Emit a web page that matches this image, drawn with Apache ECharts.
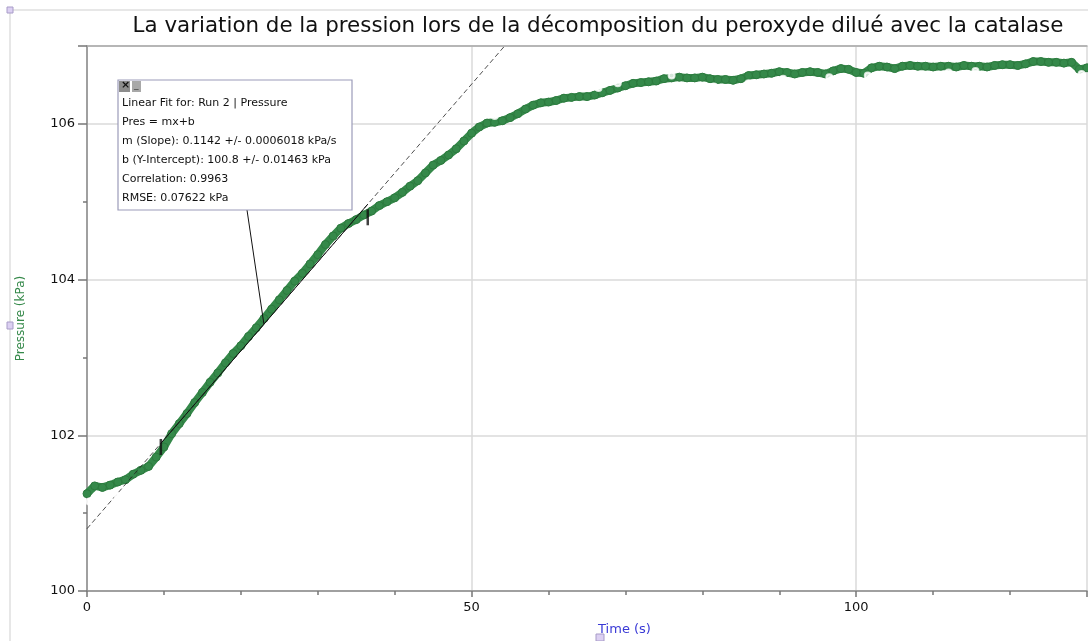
<!DOCTYPE html>
<html>
<head>
<meta charset="utf-8">
<script src="https://cdn.jsdelivr.net/npm/echarts@6/dist/echarts.min.js"></script>
<style>
  html, body { margin: 0; padding: 0; background: #fff; }
  #chart { width: 1088px; height: 641px; }
</style>
</head>
<body>
<div id="chart"></div>
<script>
// Run 2 : pression (kPa) relevée chaque seconde, t = 0 .. 130 s
const sampleStep = 1;
const pressure = [
  101.25, 101.35, 101.33, 101.36, 101.40, 101.43, 101.50, 101.55, 101.60, 101.72,
  101.85, 102.02, 102.15, 102.28, 102.42, 102.55, 102.68, 102.80, 102.93, 103.05,
  103.15, 103.27, 103.38, 103.50, 103.62, 103.74, 103.86, 103.98, 104.08, 104.20,
  104.32, 104.45, 104.56, 104.66, 104.72, 104.77, 104.83, 104.88, 104.95, 105.00,
  105.05, 105.12, 105.20, 105.27, 105.37, 105.47, 105.53, 105.60, 105.68, 105.78,
  105.88, 105.96, 106.01, 106.02, 106.04, 106.08, 106.13, 106.19, 106.24, 106.27,
  106.28, 106.30, 106.33, 106.34, 106.35, 106.35, 106.37, 106.40, 106.43, 106.46,
  106.49, 106.52, 106.53, 106.54, 106.55, 106.58, 106.59, 106.60, 106.59, 106.59,
  106.60, 106.58, 106.57, 106.57, 106.56, 106.58, 106.62, 106.63, 106.64, 106.65,
  106.67, 106.66, 106.64, 106.66, 106.67, 106.66, 106.64, 106.68, 106.71, 106.70,
  106.66, 106.65, 106.72, 106.74, 106.73, 106.71, 106.74, 106.75, 106.74, 106.74,
  106.73, 106.74, 106.74, 106.73, 106.75, 106.74, 106.74, 106.73, 106.75, 106.76,
  106.76, 106.75, 106.77, 106.80, 106.80, 106.79, 106.79, 106.78, 106.79, 106.70,
  106.72
];
// quelques points isolés hors de la bande
const strayTimes = [0.3, 1.2, 1.6, 4.0, 53.0, 63.5, 66.5, 69.0, 76.0, 81.5, 86.0, 90.5, 96.5, 101.5, 104.5, 112.0, 115.5, 129.3];
const strayValues = [101.15, 101.22, 101.17, 101.22, 106.10, 106.24, 106.46, 106.52, 106.62, 106.48, 106.52, 106.58, 106.60, 106.62, 106.60, 106.66, 106.68, 106.64];

// régression linéaire affichée dans la boîte
const fitSlope = 0.1142;
const fitIntercept = 100.8;
const fitRange = [9.6, 36.5];
const fitBracketValues = [101.85, 104.8];
const fitText = [
  'Linear Fit for: Run 2 | Pressure',
  'Pres = mx+b',
  'm (Slope): 0.1142 +/- 0.0006018 kPa/s',
  'b (Y-Intercept): 100.8 +/- 0.01463 kPa',
  'Correlation: 0.9963',
  'RMSE: 0.07622 kPa'
];

const xTicks = { min: 0, max: 130, interval: 50 };
const yTicks = { min: 100, max: 107, interval: 2 };

const green = '#35894a';
const fit = t => fitIntercept + fitSlope * t;

const chart = echarts.init(document.getElementById('chart'));

const runData = pressure.map((p, i) => [i * sampleStep, p]);
const strayData = strayTimes.map((t, i) => [t, strayValues[i]]);

chart.setOption({
  animation: false,
  title: {
    text: 'La variation de la pression lors de la décomposition du peroxyde dilué avec la catalase',
    left: 593,
    textAlign: 'center',
    top: 11,
    textStyle: { fontFamily: 'DejaVu Sans', fontSize: 21.4, fontWeight: 'normal', color: '#111' }
  },
  grid: { left: 87, right: 1, top: 46, bottom: 50 },
  xAxis: [{
    type: 'value',
    min: xTicks.min, max: xTicks.max, interval: xTicks.interval,
    name: 'Time (s)', nameLocation: 'middle', nameGap: 32,
    nameTextStyle: { color: '#3a3ad6', fontFamily: 'DejaVu Sans', fontSize: 13, padding: [0, 0, 0, 75] },
    axisLine: { lineStyle: { color: '#8a8a8a', width: 1.5 } },
    axisTick: { length: 6, lineStyle: { color: '#777', width: 1.5 } },
    minorTick: { show: true, splitNumber: 5, length: 4, lineStyle: { color: '#777', width: 1.5 } },
    axisLabel: {
      color: '#111', fontFamily: 'DejaVu Sans', fontSize: 13, margin: 10,
      showMaxLabel: false
    },
    splitLine: { show: true, lineStyle: { color: '#dadada', width: 1.5 } }
  }, {
    // simple trait du haut du cadre
    type: 'value', position: 'top',
    min: xTicks.min, max: xTicks.max,
    axisLine: { show: true, lineStyle: { color: '#a8a8a8', width: 1.5 } },
    axisTick: { show: false }, axisLabel: { show: false }, splitLine: { show: false }
  }],
  yAxis: {
    type: 'value',
    min: yTicks.min, max: yTicks.max, interval: yTicks.interval,
    name: 'Pressure (kPa)', nameLocation: 'middle', nameGap: 60,
    nameTextStyle: { color: green, fontFamily: 'DejaVu Sans', fontSize: 12 },
    axisLine: { show: true, lineStyle: { color: '#8a8a8a', width: 1.5 } },
    axisTick: { show: true, length: 9, lineStyle: { color: '#777', width: 1.5 } },
    minorTick: { show: true, splitNumber: 2, length: 4, lineStyle: { color: '#777', width: 1.5 } },
    axisLabel: { color: '#111', fontFamily: 'DejaVu Sans', fontSize: 13, margin: 12, showMaxLabel: false },
    splitLine: { show: true, lineStyle: { color: '#dadada', width: 1.5 } }
  },
  series: [
    {
      name: 'Run 2',
      type: 'line',
      data: runData,
      symbol: 'circle',
      symbolSize: 8,
      showAllSymbol: true,
      lineStyle: { color: green, width: 8 },
      itemStyle: { color: green, borderColor: '#2c7a3e', borderWidth: 1 },
      z: 3
    },
    {
      type: 'scatter',
      data: strayData,
      symbol: 'emptyCircle',
      symbolSize: 6,
      itemStyle: { color: '#fff', borderColor: green, borderWidth: 1.5 },
      z: 4
    },
    {
      type: 'line',
      data: [[0, fit(0)], [60, fit(60)]],
      symbol: 'none',
      lineStyle: { color: '#222', width: 0.8, type: [5, 3] },
      z: 4
    },
    {
      type: 'line',
      data: [[fitRange[0], fit(fitRange[0])], [fitRange[1], fit(fitRange[1])]],
      symbol: 'none',
      lineStyle: { color: '#111', width: 1 },
      z: 5
    },
    {
      type: 'scatter',
      data: [[fitRange[0], fitBracketValues[0]], [fitRange[1], fitBracketValues[1]]],
      symbol: 'rect',
      symbolSize: [2.5, 16],
      itemStyle: { color: '#111' },
      z: 6
    }
  ]
});

// boîte de la régression + trait de rappel vers la droite
const leaderEnd = chart.convertToPixel({ gridIndex: 0 }, [23, fit(23)]);
const box = { x: 118, y: 80, w: 234, h: 130 };
const marker = (x, y, w, h, fill) => ({ type: 'rect', shape: { x, y, width: w, height: h }, style: { fill, stroke: '#a89cc8', lineWidth: 1 } });

chart.setOption({
  graphic: [
    { type: 'line', shape: { x1: 10, y1: 10, x2: 1088, y2: 10 }, style: { stroke: '#cfcfcf', lineWidth: 1 } },
    { type: 'line', shape: { x1: 10, y1: 10, x2: 10, y2: 641 }, style: { stroke: '#cfcfcf', lineWidth: 1 } },
    marker(7, 7, 6, 6, '#dcd0f2'),
    marker(7, 322, 6, 7, '#dcd0f2'),
    marker(596, 634, 8, 7, '#dcd0f2'),
    {
      type: 'line', z: 10,
      shape: { x1: 247, y1: box.y + box.h, x2: leaderEnd[0], y2: leaderEnd[1] },
      style: { stroke: '#111', lineWidth: 1 }
    },
    {
      type: 'rect', z: 10,
      shape: { x: box.x, y: box.y, width: box.w, height: box.h },
      style: { fill: '#fff', stroke: '#9c9cba', lineWidth: 1.2 }
    },
    {
      type: 'rect', z: 11,
      shape: { x: box.x + 1, y: box.y + 1, width: 11, height: 11 },
      style: { fill: '#8c8c8c' }
    },
    {
      type: 'text', z: 12, x: box.x + 3, y: box.y,
      style: { text: '×', fill: '#111', font: 'bold 11px DejaVu Sans' }
    },
    {
      type: 'rect', z: 11,
      shape: { x: box.x + 14, y: box.y + 1, width: 9, height: 11 },
      style: { fill: '#a8a8a8' }
    },
    {
      type: 'text', z: 12, x: box.x + 16, y: box.y + 1,
      style: { text: '_', fill: '#333', font: '9px DejaVu Sans' }
    },
    {
      type: 'text', z: 12, x: box.x + 4, y: box.y + 14,
      style: {
        text: fitText.join('\n'),
        fill: '#111',
        font: '11px DejaVu Sans',
        lineHeight: 19
      }
    }
  ]
});
</script>
</body>
</html>
